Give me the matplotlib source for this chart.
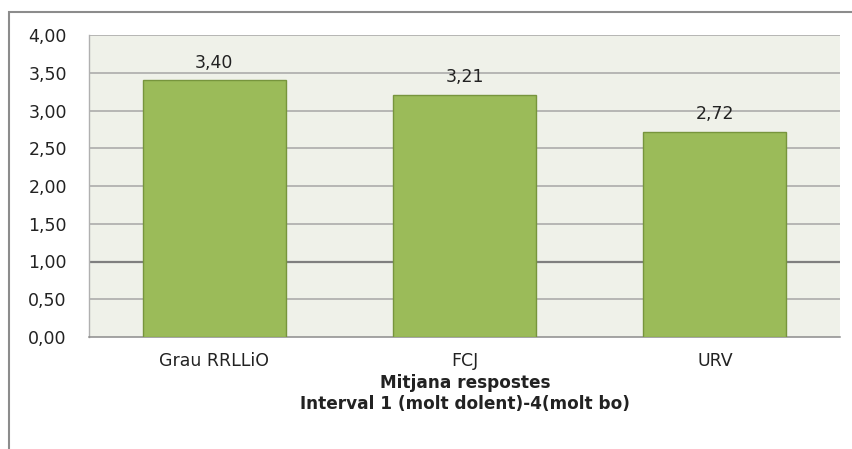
import matplotlib
matplotlib.use("Agg")
import matplotlib.pyplot as plt
from matplotlib.patches import Rectangle
from matplotlib.ticker import MultipleLocator, FuncFormatter

categories = ["Grau RRLLiO", "FCJ", "URV"]
values = [3.40, 3.21, 2.72]
xlabel_text = "Mitjana respostes\nInterval 1 (molt dolent)-4(molt bo)"

plt.rcParams['font.family'] = ['DejaVu Sans']

W, H = 853, 449
fig = plt.figure(figsize=(W / 100, H / 100), dpi=100)

# outer chart frame (cut at right and bottom)
fig.patches.append(Rectangle((9 / W, -0.1), 1.2, (H - 12) / H + 0.1,
                             transform=fig.transFigure, fill=False,
                             edgecolor="#8c8c8c", linewidth=1.5))

ax = fig.add_axes([89 / W, 1 - 337 / H, (840 - 89) / W, (337 - 35) / H])
ax.set_facecolor("#EFF1E9")

x = range(len(categories))
bars = ax.bar(x, values, width=0.57, color="#9BBB59", edgecolor="#77953D",
              linewidth=1.0, zorder=3)

ax.set_xlim(-0.5, len(categories) - 0.5)
ax.set_ylim(0, 4)
ax.yaxis.set_major_locator(MultipleLocator(0.5))
ax.yaxis.set_major_formatter(FuncFormatter(lambda v, p: f"{v:.2f}".replace(".", ",")))
ax.set_xticks(list(x))
ax.set_xticklabels(categories)

for yv in [0.5, 1.0, 1.5, 2.0, 2.5, 3.0, 3.5, 4.0]:
    lw = 1.6 if yv == 1.0 else 1.1
    col = "#7f7f7f" if yv == 1.0 else "#a6a6a6"
    ax.axhline(yv, color=col, linewidth=lw, zorder=1)

for b, v in zip(bars, values):
    ax.text(b.get_x() + b.get_width() / 2, v + 0.11, f"{v:.2f}".replace(".", ","),
            ha="center", va="bottom", fontsize=12.5, color="#222222", zorder=4)

for s in ["top", "right"]:
    ax.spines[s].set_visible(False)
ax.spines["left"].set_color("#b0b0b0")
ax.spines["left"].set_linewidth(1.0)
ax.spines["bottom"].set_color("#8c8c8c")
ax.spines["bottom"].set_linewidth(1.1)

ax.tick_params(axis="both", length=0, labelsize=12.5, colors="#222222")
ax.tick_params(axis="y", pad=16)
ax.tick_params(axis="x", pad=11)

fig.text(465 / W, 1 - 383 / H, "Mitjana respostes", ha="center", va="center",
         fontsize=12.2, fontweight="bold", color="#222222")
fig.text(465 / W, 1 - 404 / H, "Interval 1 (molt dolent)-4(molt bo)", ha="center",
         va="center", fontsize=12.2, fontweight="bold", color="#222222")

fig.savefig("out.png", dpi=100, facecolor="white")
